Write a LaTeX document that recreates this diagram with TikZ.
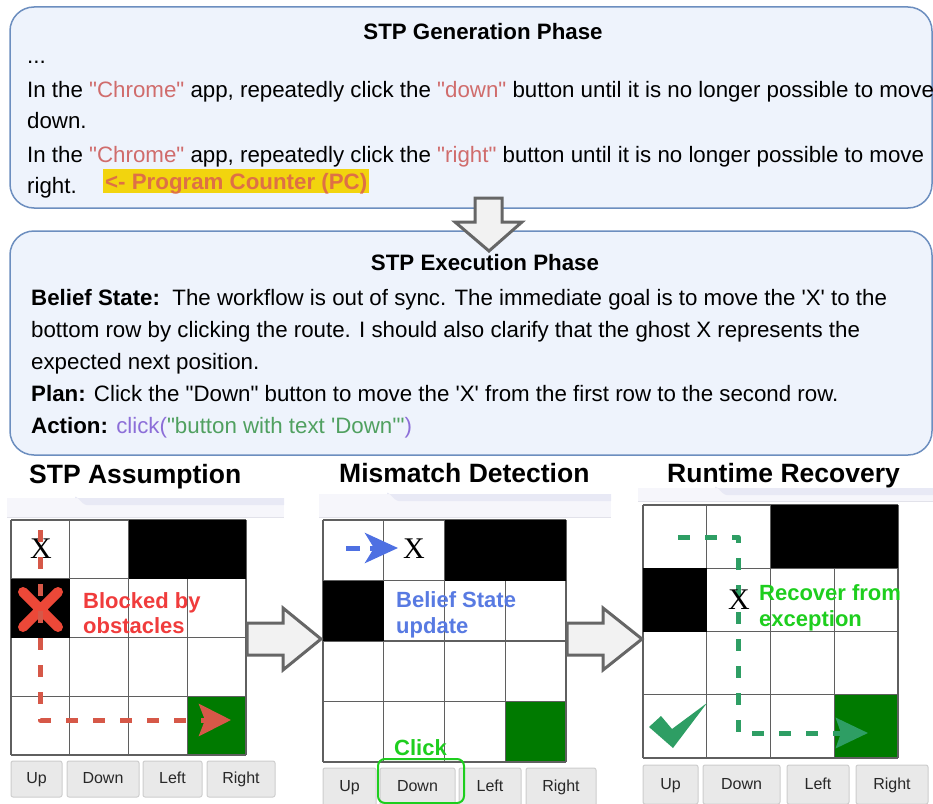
\documentclass[tikz,border=0pt]{standalone}
\usepackage{fontspec}
\setmainfont{Liberation Sans}[Ligatures=TeXOff]
\newfontfamily\xfont{Liberation Serif}
\usetikzlibrary{arrows.meta}
\definecolor{boxfill}{RGB}{238,243,252}
\definecolor{boxline}{RGB}{108,142,191}
\definecolor{quoted}{RGB}{208,108,108}
\definecolor{pcyellow}{RGB}{242,212,14}
\definecolor{pctext}{RGB}{222,112,70}
\definecolor{actpurple}{RGB}{140,110,216}
\definecolor{actgreen}{RGB}{80,160,96}
\definecolor{blocked}{RGB}{240,60,60}
\definecolor{crossred}{RGB}{236,72,56}
\definecolor{pathred}{RGB}{214,88,72}
\definecolor{beliefblue}{RGB}{88,122,226}
\definecolor{arrowblue}{RGB}{78,112,226}
\definecolor{clickgreen}{RGB}{30,206,30}
\definecolor{pathgreen}{RGB}{46,158,100}
\definecolor{goal}{RGB}{0,122,0}
\definecolor{gridgray}{RGB}{95,95,95}
\definecolor{btnfill}{RGB}{233,233,233}
\definecolor{btnline}{RGB}{205,205,205}
\definecolor{btntext}{RGB}{40,40,40}
\definecolor{arrowgray}{RGB}{102,102,102}
\definecolor{arrowfill}{RGB}{242,242,242}
\definecolor{barlight}{RGB}{246,246,251}
\definecolor{bartab}{RGB}{232,233,245}
\definecolor{barline}{RGB}{226,226,234}

\begin{document}
\begin{tikzpicture}[x=1bp,y=-1bp,line join=round,
	txt/.style={anchor=base west,inner sep=0pt,font=\fontsize{22.3bp}{26bp}\selectfont},
	ttl/.style={anchor=base,inner sep=0pt,font=\fontsize{22.3bp}{26bp}\selectfont\bfseries},
	head/.style={anchor=base west,inner sep=0pt,font=\fontsize{26.5bp}{30bp}\selectfont\bfseries},
	lbl/.style={anchor=base west,inner sep=0pt,font=\fontsize{22bp}{26bp}\selectfont\bfseries},
	phase/.style={draw=boxline,fill=boxfill,line width=1.5bp,rounded corners=24bp},
	bigarrow/.style={draw=arrowgray,fill=arrowfill,line width=3bp,line join=miter},
	btn/.style={draw=btnline,fill=btnfill,line width=1bp,rounded corners=2bp,inner sep=0pt,text height=12bp,text depth=3bp,font=\fontsize{16bp}{18bp}\selectfont,text=btntext},
	clickbox/.style={draw=clickgreen,line width=2bp,rounded corners=7bp},
	gridline/.style={draw=gridgray,line width=1.3bp},
	xmark/.style={inner sep=0pt,font=\xfont\fontsize{30bp}{30bp}\selectfont},
	redpath/.style={draw=pathred,line width=5bp,dash pattern=on 12bp off 15bp,-{Stealth[length=32bp,width=32bp,inset=6bp]}},
	bluepath/.style={draw=arrowblue,line width=5bp,dash pattern=on 14bp off 10bp,-{Stealth[length=33bp,width=30bp,inset=9bp]}},
	greenpath/.style={draw=pathgreen,line width=5bp,dash pattern=on 12bp off 15bp,-{Stealth[length=32bp,width=30bp,inset=5bp]}},
	crossline/.style={draw=crossred,line width=10bp,line cap=round}]
	\useasboundingbox (0,0) rectangle (933,804);

	\draw[phase] (10,7) rectangle (932,208);
	\node[ttl] (gtitle) at (483,40) {STP Generation Phase};
	\node[txt] (gdots) at (27,64) {...};
	\node[txt] (gline1) at (27,97) {In the \textcolor{quoted}{"Chrome"} app, repeatedly click the \textcolor{quoted}{"down"} button until it is no longer possible to move};
	\node[txt] (gline2) at (27,128) {down.};
	\node[txt] (gline3) at (27,162) {In the \textcolor{quoted}{"Chrome"} app, repeatedly click the \textcolor{quoted}{"right"} button until it is no longer possible to move};
	\node[txt] (gline4) at (27,193) {right.};
	\node[txt,font=\fontsize{22.3bp}{26bp}\selectfont\bfseries,fill=pcyellow,text=pctext,inner xsep=2bp,text height=20bp,text depth=4bp] (pc) at (103,189) {<- Program Counter (PC)};

	\draw[phase] (10,231) rectangle (932,455);
	\node[ttl] (etitle) at (485,270) {STP Execution Phase};
	\node[txt] (eline1) at (31,305) {\textbf{Belief State:}\ \ The workflow is out of sync. The immediate goal is to move the 'X' to the};
	\node[txt] (eline2) at (31,337) {bottom row by clicking the route. I should also clarify that the ghost X represents the};
	\node[txt] (eline3) at (31,369) {expected next position.};
	\node[txt] (eline4) at (31,401) {\textbf{Plan:} Click the "Down" button to move the 'X' from the first row to the second row.};
	\node[txt] (eline5) at (31,433) {\textbf{Action:} \textcolor{actpurple}{click(}\textcolor{actgreen}{"button with text 'Down'"}\textcolor{actpurple}{)}};

	\draw[bigarrow] (475,198) -- (502,198) -- (502,222) -- (522,222) -- (489,251) -- (455,222) -- (475,222) -- cycle;

	\node[head] (hassume) at (29,483) {STP Assumption};
	\node[head] (hmismatch) at (339,482) {Mismatch Detection};
	\node[head] (hrecover) at (667,482) {Runtime Recovery};

	\foreach \l/\r/\t/\b/\k in {7/284/498/517/75, 319/611/494/517/387, 638/940/488/501/715}{
		\fill[barlight] (\l,\t) rectangle (\r,\b);
		\fill[bartab] (\k,\t) to[out=90,in=180] ({\k+12},{\t+7}) -- (\r,{\t+7}) -- (\r,\t) -- cycle;
		\draw[barline,line width=1bp] (\l,\b) -- (\r,\b);
	}

	\foreach \gx/\gy/\gw/\gh in {11/520/58.75/58.75, 323/520/60.75/60.5, 643/505/63.75/63.25}{
		\fill[goal] ({\gx+3*\gw},{\gy+3*\gh}) rectangle ({\gx+4*\gw},{\gy+4*\gh});
		\foreach \i in {0,...,4}{
			\draw[gridline] ({\gx+\i*\gw},\gy) -- ({\gx+\i*\gw},{\gy+4*\gh});
			\draw[gridline] (\gx,{\gy+\i*\gh}) -- ({\gx+4*\gw},{\gy+\i*\gh});
		}
		\fill[black] ({\gx+2*\gw},\gy) rectangle ({\gx+4*\gw},{\gy+\gh});
		\fill[black] (\gx,{\gy+\gh}) rectangle ({\gx+\gw},{\gy+2*\gh});
	}

	\draw[bigarrow] (247,623) -- (283,623) -- (283,608) -- (321,639) -- (283,670) -- (283,655) -- (247,655) -- cycle;
	\draw[bigarrow] (567,623) -- (603,623) -- (603,608) -- (642,639) -- (603,670) -- (603,655) -- (567,655) -- cycle;

	\node[xmark] (xa) at (41,549) {X};
	\draw[crossline] (23,592) -- (58,627) (58,592) -- (23,627);
	\coordinate (ra) at (40,530);
	\coordinate (rc) at (231,720);
	\draw[redpath] (ra) |- (rc);
	\node[lbl,text=blocked] (blk) at (83,608) {Blocked by};
	\node[lbl,text=blocked] (obs) at (83,633) {obstacles};

	\node[xmark] (xb) at (414,549) {X};
	\coordinate (ba) at (346,548);
	\coordinate (bb) at (398,548);
	\draw[bluepath] (ba) -- (bb);
	\node[lbl,text=beliefblue] (bel) at (396,607) {Belief State};
	\node[lbl,text=beliefblue] (upd) at (396,633) {update};
	\node[lbl,text=clickgreen] (clk) at (394,755) {Click};

	\coordinate (ga) at (678,537);
	\coordinate (gm) at (738,733);
	\coordinate (gc) at (868,733);
	\draw[greenpath] (ga) -| (gm) -- (gc);
	\node[xmark] (xc) at (739,600) {X};
	\fill[pathgreen] (649,727) -- (661,716) -- (672,729) -- (707,703) -- (673,748) -- cycle;
	\node[lbl,text=clickgreen] (rec) at (759,600) {Recover from};
	\node[lbl,text=clickgreen] (exc) at (759,626) {exception};

	\foreach \n/\l/\r/\t/\b/\s in {upa/11/62/761/797/Up, downa/67/139/761/797/Down, lefta/143/202/761/797/Left, righta/207/275/761/797/Right, upb/323/376/768/806/Up, downb/380/455/768/806/Down, leftb/459/521/768/806/Left, rightb/526/596/768/806/Right, upc/643/698/765/804/Up, downc/703/780/765/804/Down, leftc/787/849/765/804/Left, rightc/856/928/765/804/Right}{
		\node[btn,minimum width={(\r-\l)*1bp},minimum height={(\b-\t)*1bp}] (\n) at ({(\l+\r)/2},{(\t+\b)/2}) {\s};
	}
	\node[clickbox,minimum width=86bp,minimum height=44bp] (clkbox) at (421,781) {};
\end{tikzpicture}
\end{document}
